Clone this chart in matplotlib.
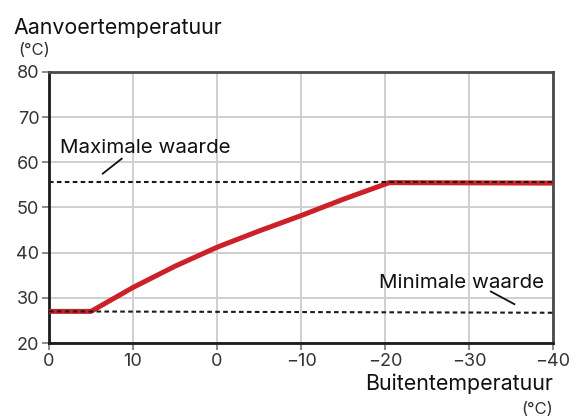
import matplotlib.pyplot as plt

plt.rcParams['font.family'] = ['Inter', 'DejaVu Sans']

# outdoor temperature vs supply temperature (heating curve)
outdoor = [20, 15, 10, 5, 0, -5, -10, -15, -20.5, -40]
supply = [27.0, 27.0, 32.3, 37.0, 41.2, 44.8, 48.2, 51.8, 55.5, 55.4]

max_x = [20, -40]
max_y = [55.6, 55.6]
min_x = [20, -40]
min_y = [27.0, 26.7]

xticks = [20, 10, 0, -10, -20, -30, -40]
xtick_labels = ['0', '10', '0', '\u221210', '\u221220', '\u221230', '\u221240']
yticks = [20, 30, 40, 50, 60, 70, 80]

fig = plt.figure(figsize=(5.76, 4.18), dpi=100)
ax = fig.add_axes([0.0851, 0.1794, 0.875, 0.6484])

ax.plot(outdoor, supply, color='#cd2129', lw=3.6, solid_capstyle='butt', zorder=3)
ax.plot(max_x, max_y, color='#1a1a1a', lw=1.5, ls=(0, (2.2, 1.6)), zorder=4)
ax.plot(min_x, min_y, color='#1a1a1a', lw=1.5, ls=(0, (2.2, 1.6)), zorder=4)

ax.set_xlim(20, -40)
ax.set_ylim(20, 80)
ax.set_xticks(xticks)
ax.set_xticklabels(xtick_labels)
ax.set_yticks(yticks)
ax.grid(True, color='#cccccc', lw=1.3)
ax.set_axisbelow(True)

for side in ['left', 'bottom']:
    ax.spines[side].set_color('#1a1a1a')
    ax.spines[side].set_linewidth(2.0)
for side in ['top', 'right']:
    ax.spines[side].set_color('#4a4a4a')
    ax.spines[side].set_linewidth(2.0)

ax.tick_params(axis='both', length=5, width=1.2, color='#777777',
               labelsize=13, labelcolor='#333333', pad=2)

# annotations for the limits
ax.text(18.7, 62.0, 'Maximale waarde', fontsize=14.8, color='#111111', va='baseline')
ax.plot([13.6, 11.35], [57.5, 60.8], color='#111111', lw=1.3)
ax.text(-19.3, 32.2, 'Minimale waarde', fontsize=14.8, color='#111111', va='baseline')
ax.plot([-32.6, -35.4], [31.4, 28.6], color='#111111', lw=1.3)

fig.text(0.024, 0.933, 'Aanvoertemperatuur', fontsize=15.4, color='#111111', va='center')
fig.text(0.031, 0.879, '(\u00b0C)', fontsize=12, color='#333333', va='center')
fig.text(0.96, 0.081, 'Buitentemperatuur', fontsize=15.4, color='#111111',
         va='center', ha='right')
fig.text(0.96, 0.02, '(\u00b0C)', fontsize=12, color='#333333', va='center', ha='right')

plt.savefig('out.png', dpi=100)
